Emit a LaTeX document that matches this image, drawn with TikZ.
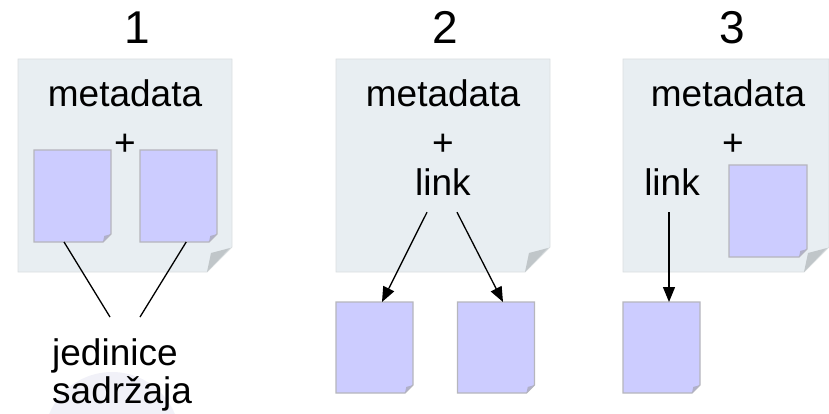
\documentclass[tikz,border=0pt]{standalone}
\usepackage{fontspec}
\setmainfont{Liberation Sans}
\usetikzlibrary{arrows.meta,calc}
\definecolor{pagefill}{HTML}{E8EEF2}
\definecolor{pageedge}{HTML}{DADEE0}
\definecolor{docfill}{HTML}{CCCCFF}
\definecolor{docedge}{HTML}{B6B6BC}
\definecolor{pagecurl}{HTML}{C0C6C9}
\definecolor{doccurl}{HTML}{B0B0C8}
\definecolor{wmark}{HTML}{F1F1F8}
\tikzset{
  box/.style={rectangle, draw=none, inner sep=0pt, outer sep=0pt},
  txt/.style={font=\fontsize{37}{38}\selectfont, inner sep=0pt, anchor=base},
  num/.style={font=\fontsize{46}{50}\selectfont, inner sep=0pt, anchor=base},
  conn/.style={line width=1.3pt, black},
  arr/.style={conn, -{Triangle[length=15pt,width=12pt]}},
}
% #1 node name, #2 fold size, #3 fill, #4 edge, #5 curl colour, #6 edge width
\newcommand\foldbox[6]{%
  \path[fill=#3, draw=#4, line width=#6]
    (#1.north west) -- (#1.north east) -- ($(#1.south east)+(0,-#2)$)
    -- ($(#1.south east)+(-#2,0)$) -- (#1.south west) -- cycle;
  \fill[#5] ($(#1.south east)+(-#2,0)$) -- ($(#1.south east)+(-0.08*#2,-0.96*#2)$)
    -- ($(#1.south east)+(-0.84*#2,-0.76*#2)$) -- cycle;
}
\begin{document}
\begin{tikzpicture}[x=1pt,y=-1pt]
\useasboundingbox (0,0) rectangle (829,414);
% watermark
\begin{scope}
  \clip (0,0) rectangle (829,414);
  \fill[wmark] (112,440) circle (68);
\end{scope}
% pages
\node[box, minimum width=214pt, minimum height=213pt] (p1) at (125,165.5) {};
\node[box, minimum width=214pt, minimum height=213pt] (p2) at (443,165.5) {};
\node[box, minimum width=206pt, minimum height=213pt] (p3) at (726,165.5) {};
\foldbox{p1}{25}{pagefill}{pageedge}{pagecurl}{0.8pt}
\foldbox{p2}{25}{pagefill}{pageedge}{pagecurl}{0.8pt}
\foldbox{p3}{25}{pagefill}{pageedge}{pagecurl}{0.8pt}
% numbers
\node[num] (n1) at (137,44) {1};
\node[num] (n2) at (445,44) {2};
\node[num] (n3) at (732,44) {3};
% texts
\node[txt] (m1) at (125,107) {metadata};
\node[txt] (m2) at (443,107) {metadata};
\node[txt] (m3) at (728,107) {metadata};
\node[txt] (plus1) at (125,155.5) {+};
\node[txt] (plus2) at (443,155.5) {+};
\node[txt] (plus3) at (733,155.5) {+};
\node[txt] (l2) at (443,195) {link};
\node[txt] (l3) at (672,195) {link};
% content units
\node[box, minimum width=77pt, minimum height=92pt] (d1a) at (72.5,196) {};
\node[box, minimum width=77pt, minimum height=92pt] (d1b) at (178.5,196) {};
\node[box, minimum width=77pt, minimum height=91pt] (d2a) at (374.5,347.5) {};
\node[box, minimum width=77pt, minimum height=91pt] (d2b) at (496,347.5) {};
\node[box, minimum width=78pt, minimum height=92pt] (d3a) at (768,211) {};
\node[box, minimum width=77pt, minimum height=91pt] (d3b) at (661.5,347.5) {};
\foreach \d in {d1a,d1b,d2a,d2b,d3a,d3b}{\foldbox{\d}{8}{docfill}{docedge}{doccurl}{1.1pt}}
% label
\node[txt, anchor=base west, align=left] (lab) at (52,403) {jedinice\\sadržaja};
\coordinate (c1a) at (110,317);
\coordinate (c1b) at (140,317);
% connectors
\draw[conn] ($(d1a.south west)!0.39!(d1a.south east)$) -- (c1a);
\draw[conn] ($(d1b.south west)!0.6!(d1b.south east)$) -- (c1b);
\draw[arr] ($(l2.south)+(-16,17)$) -- ($(d2a.north)+(7.5,0)$);
\draw[arr] ($(l2.south)+(14,17)$) -- ($(d2b.north)+(7,0)$);
\draw[arr] ($(l3.south)+(-3,17)$) -- ($(d3b.north)+(7.5,0)$);
\end{tikzpicture}
\end{document}
